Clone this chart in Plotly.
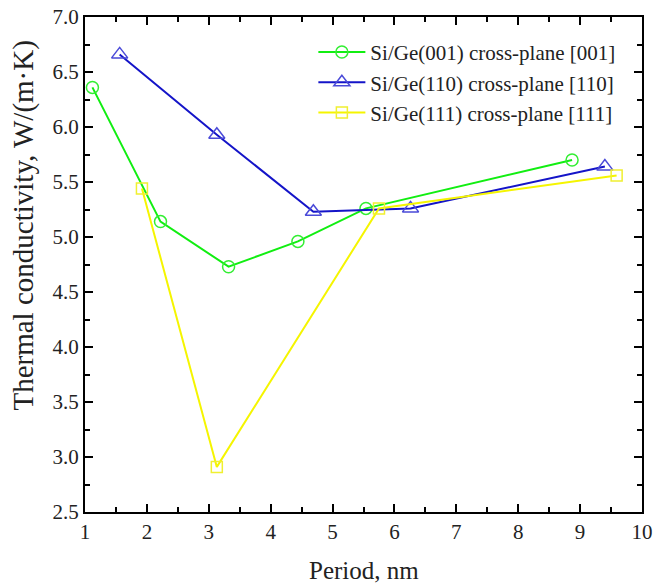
import plotly.graph_objects as go

x001 = [1.12, 2.22, 3.32, 4.44, 5.54, 8.87]
y001 = [6.36, 5.14, 4.73, 4.96, 5.26, 5.70]
x110 = [1.56, 3.13, 4.69, 6.26, 9.40]
y110 = [6.66, 5.93, 5.23, 5.26, 5.64]
x111 = [1.92, 3.13, 5.75, 9.59]
y111 = [5.44, 2.91, 5.26, 5.56]
names = ["Si/Ge(001) cross-plane [001]", "Si/Ge(110) cross-plane [110]", "Si/Ge(111) cross-plane [111]"]
x_title = "Period, nm"
y_title = "Thermal conductivity, W/(m·K)"

font = "Liberation Serif"
fig = go.Figure()
fig.add_trace(go.Scatter(x=x001, y=y001, name=names[0], mode="lines+markers",
                         line=dict(color="#11ee11", width=2),
                         marker=dict(symbol="circle-open", size=12, color="#33ee33", line=dict(width=1.5))))
fig.add_trace(go.Scatter(x=x110, y=y110, name=names[1], mode="lines+markers",
                         line=dict(color="#1414c8", width=2),
                         marker=dict(symbol="triangle-up-open", size=14, color="#4a4ad8", line=dict(width=1.5))))
fig.add_trace(go.Scatter(x=x111, y=y111, name=names[2], mode="lines+markers",
                         line=dict(color="#f5f500", width=2),
                         marker=dict(symbol="square-open", size=11, color="#f0f030", line=dict(width=1.5))))

axis_common = dict(showline=True, linecolor="black", linewidth=2, mirror="ticks",
                   ticks="inside", ticklen=8, tickwidth=2, tickcolor="black",
                   showgrid=False, zeroline=False, automargin=False,
                   tickfont=dict(family=font, size=21, color="#222"))
fig.update_xaxes(range=[1, 10], dtick=1, tick0=1,
                 minor=dict(dtick=0.5, ticks="inside", ticklen=5, tickwidth=2, tickcolor="black"),
                 **axis_common)
fig.update_yaxes(range=[2.5, 7.0], dtick=0.5, tick0=2.5, tickformat=".1f",
                 minor=dict(dtick=0.25, ticks="inside", ticklen=5, tickwidth=2, tickcolor="black"),
                 **axis_common)
fig.add_annotation(text=x_title, xref="paper", yref="paper", x=0.5, y=-0.118,
                   xanchor="center", yanchor="middle", showarrow=False,
                   font=dict(family=font, size=25, color="#222"))
fig.add_annotation(text=y_title, xref="paper", yref="paper", x=-0.111, y=0.579,
                   xanchor="center", yanchor="middle", textangle=-90, showarrow=False,
                   font=dict(family=font, size=29, color="#222"))
fig.update_layout(width=654, height=587, plot_bgcolor="white", paper_bgcolor="white",
                  margin=dict(l=85, r=12, t=17, b=75),
                  legend=dict(x=0.41, y=0.97, xanchor="left", yanchor="top",
                              font=dict(family=font, size=21, color="#222"),
                              bgcolor="rgba(0,0,0,0)", tracegroupgap=0, itemwidth=47))
# remove the browser's default 8px body margin so the figure fills the window
fig.write_html("out.html", config={"displayModeBar": False},
               post_script="document.body.style.margin='0';")
